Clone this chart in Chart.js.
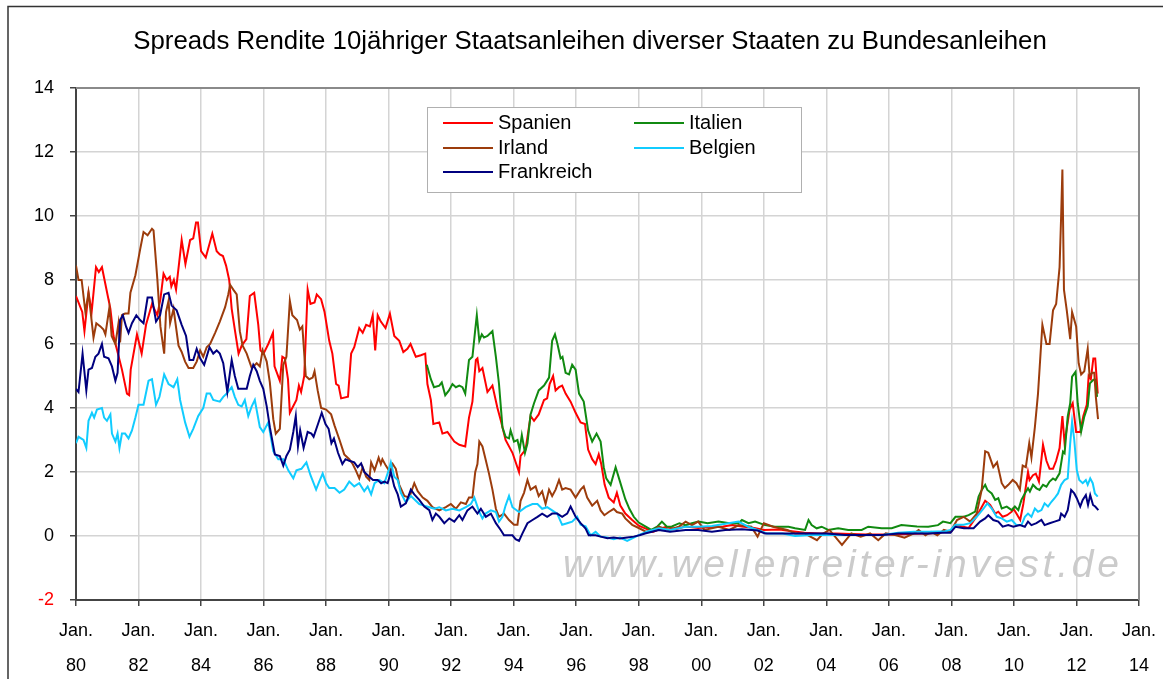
<!DOCTYPE html>
<html>
<head>
<meta charset="utf-8">
<script src="https://cdn.jsdelivr.net/npm/chart.js@4.4.1/dist/chart.umd.min.js"></script>
<style>
  html, body { margin: 0; padding: 0; background: #fff; }
  #grafik { display: block; }
</style>
</head>
<body>
<canvas id="grafik" width="1163" height="679"></canvas>
<script>
// Titel und Achsen
const titel = 'Spreads Rendite 10jähriger Staatsanleihen diverser Staaten zu Bundesanleihen';
const wasserzeichen = 'www.wellenreiter-invest.de';
const jahrStart = 1980;
const jahrEnde = 2014;
const yTicks = [-2, 0, 2, 4, 6, 8, 10, 12, 14];

// Serien: [Jahr (Dezimal), Spread in Prozentpunkten]
const spanien = [
  [1980.0,7.5],[1980.2,7.0],[1980.27,6.4],[1980.4,7.6],[1980.5,7.0],[1980.64,8.4],[1980.73,8.25],[1980.83,8.4],
  [1981.1,7.1],[1981.2,6.25],[1981.47,5.2],[1981.63,4.45],[1981.7,4.4],[1981.75,5.2],[1981.95,6.3],[1982.1,5.7],
  [1982.24,6.6],[1982.43,7.25],[1982.6,6.9],[1982.7,7.4],[1982.8,8.2],[1982.9,8.0],[1983.0,8.1],[1983.05,7.8],
  [1983.13,8.0],[1983.2,7.7],[1983.3,8.55],[1983.38,9.25],[1983.5,8.5],[1983.65,9.25],[1983.75,9.3],[1983.84,9.8],
  [1983.9,9.8],[1984.0,8.9],[1984.15,8.7],[1984.36,9.45],[1984.5,8.9],[1984.6,8.8],[1984.7,8.75],[1984.8,8.45],
  [1984.9,8.0],[1984.98,7.1],[1985.08,6.45],[1985.2,5.7],[1985.3,5.95],[1985.45,6.15],[1985.56,7.5],[1985.7,7.6],
  [1985.83,6.6],[1985.9,5.8],[1986.0,5.7],[1986.15,6.0],[1986.3,6.35],[1986.35,5.3],[1986.52,4.85],[1986.6,5.6],
  [1986.68,5.55],[1986.78,4.9],[1986.84,3.85],[1987.05,4.25],[1987.13,4.7],[1987.2,4.5],[1987.3,5.0],[1987.41,7.7],
  [1987.5,7.25],[1987.63,7.3],[1987.7,7.55],[1987.84,7.4],[1987.95,7.0],[1988.1,6.1],[1988.2,5.7],[1988.32,4.75],
  [1988.4,4.7],[1988.48,4.3],[1988.7,4.35],[1988.8,5.7],[1988.9,5.9],[1989.06,6.5],[1989.17,6.35],[1989.28,6.6],
  [1989.4,6.55],[1989.49,6.9],[1989.57,5.8],[1989.65,6.9],[1989.75,6.7],[1989.9,6.5],[1990.04,6.95],[1990.18,6.25],
  [1990.34,6.1],[1990.47,5.75],[1990.6,5.85],[1990.7,6.0],[1990.87,5.6],[1991.03,5.65],[1991.17,5.7],[1991.24,4.75],
  [1991.35,4.25],[1991.43,3.5],[1991.62,3.55],[1991.72,3.2],[1991.88,3.25],[1992.1,2.95],[1992.26,2.85],[1992.45,2.8],
  [1992.57,3.7],[1992.68,4.2],[1992.79,5.5],[1992.84,5.55],[1992.9,5.15],[1993.0,5.25],[1993.16,4.5],[1993.32,4.7],
  [1993.48,4.0],[1993.59,3.6],[1993.74,3.0],[1993.96,2.6],[1994.17,2.0],[1994.22,2.5],[1994.38,2.7],[1994.54,3.75],
  [1994.65,3.6],[1994.8,3.8],[1994.97,4.25],[1995.07,4.3],[1995.15,4.75],[1995.26,5.0],[1995.34,4.55],[1995.45,4.65],
  [1995.55,4.7],[1995.66,4.45],[1995.82,4.2],[1995.98,3.85],[1996.14,3.55],[1996.28,3.5],[1996.38,2.7],[1996.51,2.4],
  [1996.62,2.25],[1996.72,2.55],[1996.8,2.25],[1996.91,1.6],[1997.04,1.2],[1997.2,1.05],[1997.3,1.35],[1997.41,0.95],
  [1997.57,0.7],[1997.79,0.5],[1998.0,0.32],[1998.3,0.2],[1998.45,0.13],[1998.85,0.28],[1999.2,0.22],[1999.5,0.3],
  [1999.9,0.25],[2000.3,0.28],[2000.7,0.3],[2001.0,0.34],[2001.3,0.3],[2001.7,0.25],[2002.0,0.19],[2002.5,0.2],
  [2002.9,0.15],[2003.3,0.1],[2003.8,0.08],[2004.3,0.08],[2004.8,0.06],[2005.3,0.05],[2005.8,0.05],[2006.3,0.05],
  [2006.8,0.07],[2007.3,0.08],[2007.7,0.12],[2008.0,0.15],[2008.13,0.35],[2008.55,0.25],[2008.8,0.6],[2009.08,1.1],
  [2009.24,0.97],[2009.4,0.7],[2009.5,0.76],[2009.64,0.6],[2009.78,0.65],[2009.93,0.76],[2009.98,0.86],[2010.08,0.7],
  [2010.2,0.5],[2010.3,1.0],[2010.45,2.0],[2010.5,1.75],[2010.61,1.9],[2010.7,1.95],[2010.8,1.7],[2010.93,2.85],
  [2011.04,2.35],[2011.14,2.1],[2011.25,2.1],[2011.35,2.35],[2011.46,2.75],[2011.55,3.75],[2011.62,2.9],[2011.78,3.95],
  [2011.88,4.15],[2011.99,3.25],[2012.12,3.25],[2012.22,3.75],[2012.33,4.1],[2012.39,5.0],[2012.46,4.9],[2012.54,5.55],
  [2012.6,5.55],[2012.68,4.45]
];

const italien = [
  [1991.22,5.35],[1991.35,4.9],[1991.45,4.65],[1991.62,4.7],[1991.7,4.8],[1991.81,4.4],[1991.93,4.55],[1992.04,4.75],
  [1992.15,4.65],[1992.26,4.7],[1992.36,4.65],[1992.45,4.45],[1992.57,5.5],[1992.68,5.6],[1992.77,6.45],[1992.82,6.9],
  [1992.9,6.1],[1992.98,6.3],[1993.05,6.2],[1993.16,6.25],[1993.32,6.4],[1993.43,5.6],[1993.53,4.75],[1993.64,3.4],
  [1993.74,3.1],[1993.85,3.05],[1993.9,3.3],[1994.01,2.95],[1994.12,3.0],[1994.19,2.7],[1994.26,3.15],[1994.36,2.6],
  [1994.44,2.9],[1994.54,3.8],[1994.65,4.15],[1994.8,4.55],[1994.97,4.7],[1995.13,4.95],[1995.23,6.1],[1995.32,6.3],
  [1995.4,6.0],[1995.5,5.55],[1995.56,5.6],[1995.66,5.1],[1995.77,5.05],[1995.87,5.35],[1995.98,5.2],[1996.09,4.45],
  [1996.24,4.2],[1996.38,3.3],[1996.51,2.95],[1996.65,3.2],[1996.78,2.95],[1996.88,2.15],[1996.96,1.8],[1997.1,1.6],
  [1997.26,2.15],[1997.4,1.7],[1997.57,1.15],[1997.7,0.85],[1997.84,0.6],[1998.0,0.42],[1998.21,0.3],[1998.4,0.19],
  [1998.59,0.29],[1998.74,0.45],[1998.9,0.29],[1999.06,0.3],[1999.3,0.4],[1999.49,0.34],[1999.7,0.4],[1999.91,0.45],
  [2000.2,0.4],[2000.55,0.45],[2000.9,0.4],[2001.19,0.4],[2001.3,0.5],[2001.51,0.4],[2001.72,0.45],[2002.04,0.34],
  [2002.36,0.29],[2002.79,0.29],[2003.0,0.24],[2003.32,0.19],[2003.43,0.5],[2003.53,0.34],[2003.69,0.24],[2003.85,0.29],
  [2004.06,0.19],[2004.38,0.24],[2004.7,0.19],[2005.13,0.19],[2005.34,0.29],[2005.77,0.24],[2006.09,0.24],[2006.4,0.34],
  [2006.9,0.3],[2007.26,0.29],[2007.57,0.34],[2007.73,0.45],[2007.97,0.4],[2008.13,0.6],[2008.4,0.6],[2008.55,0.65],
  [2008.76,0.76],[2008.87,1.23],[2008.97,1.44],[2009.08,1.6],[2009.15,1.44],[2009.29,1.33],[2009.4,1.13],[2009.5,1.18],
  [2009.61,0.86],[2009.77,0.92],[2009.93,0.81],[2010.03,0.92],[2010.14,0.81],[2010.24,1.13],[2010.35,1.33],[2010.45,1.49],
  [2010.51,1.39],[2010.61,1.6],[2010.72,1.49],[2010.82,1.44],[2010.93,1.6],[2011.04,1.54],[2011.14,1.7],[2011.25,1.8],
  [2011.33,1.75],[2011.46,1.96],[2011.57,2.64],[2011.62,2.59],[2011.72,3.73],[2011.8,4.15],[2011.86,4.98],[2011.97,5.13],
  [2012.04,4.15],[2012.15,3.26],[2012.25,3.73],[2012.36,4.05],[2012.43,4.77],[2012.54,4.88],[2012.6,4.88],[2012.66,4.35]
];

const irland = [
  [1980.0,8.45],[1980.08,8.0],[1980.18,8.0],[1980.3,7.0],[1980.4,7.6],[1980.56,6.2],[1980.65,6.65],[1980.78,6.55],
  [1980.88,6.45],[1980.94,6.3],[1981.07,7.15],[1981.14,6.25],[1981.26,6.0],[1981.36,6.65],[1981.41,6.05],[1981.47,6.9],
  [1981.57,6.95],[1981.68,6.95],[1981.74,7.6],[1981.9,8.15],[1982.05,8.95],[1982.16,9.5],[1982.29,9.4],[1982.43,9.6],
  [1982.48,9.55],[1982.6,8.05],[1982.7,6.55],[1982.82,5.7],[1982.88,7.0],[1982.96,7.35],[1983.01,6.65],[1983.12,7.1],
  [1983.28,5.95],[1983.38,5.75],[1983.49,5.45],[1983.6,5.25],[1983.75,5.25],[1983.86,5.45],[1983.97,5.8],[1984.07,5.6],
  [1984.18,5.9],[1984.29,6.0],[1984.45,6.35],[1984.6,6.7],[1984.77,7.15],[1984.87,7.55],[1984.93,7.85],[1985.03,7.7],
  [1985.14,7.55],[1985.24,6.4],[1985.33,5.95],[1985.46,5.7],[1985.62,5.25],[1985.78,5.4],[1985.88,5.3],[1985.97,5.8],
  [1986.1,5.45],[1986.2,4.8],[1986.31,3.65],[1986.39,3.2],[1986.52,3.35],[1986.63,5.35],[1986.73,5.6],[1986.84,7.35],
  [1986.92,6.9],[1987.07,6.75],[1987.16,6.45],[1987.24,6.55],[1987.35,5.0],[1987.46,4.9],[1987.57,4.95],[1987.63,5.15],
  [1987.73,4.55],[1987.84,4.0],[1988.0,3.95],[1988.16,3.8],[1988.27,3.45],[1988.43,3.0],[1988.58,2.55],[1988.74,2.4],
  [1988.85,2.25],[1988.95,2.05],[1989.06,1.8],[1989.17,2.15],[1989.28,1.85],[1989.38,1.75],[1989.44,2.3],[1989.55,2.05],
  [1989.68,2.45],[1989.75,2.25],[1989.8,2.4],[1989.91,2.2],[1990.04,2.0],[1990.13,2.25],[1990.23,2.1],[1990.34,1.6],
  [1990.5,1.25],[1990.66,1.2],[1990.82,1.65],[1990.93,1.4],[1991.09,1.2],[1991.24,1.1],[1991.4,0.9],[1991.62,0.8],
  [1991.83,0.9],[1991.99,1.0],[1992.15,0.85],[1992.31,1.05],[1992.47,1.0],[1992.57,1.2],[1992.68,1.2],[1992.77,2.0],
  [1992.84,2.25],[1992.9,2.95],[1993.0,2.8],[1993.1,2.4],[1993.21,1.95],[1993.32,1.45],[1993.43,0.85],[1993.53,0.6],
  [1993.69,0.7],[1993.85,0.5],[1994.01,0.35],[1994.12,0.35],[1994.22,1.1],[1994.33,1.35],[1994.44,1.75],[1994.54,1.45],
  [1994.7,1.55],[1994.8,1.25],[1994.91,1.4],[1995.02,1.0],[1995.13,1.45],[1995.23,1.25],[1995.34,1.45],[1995.45,1.75],
  [1995.55,1.45],[1995.66,1.5],[1995.82,1.45],[1995.98,1.2],[1996.14,1.45],[1996.24,1.55],[1996.35,1.2],[1996.51,0.95],
  [1996.67,1.1],[1996.78,0.8],[1996.9,0.65],[1997.04,0.75],[1997.2,0.85],[1997.3,0.75],[1997.47,0.7],[1997.57,0.55],
  [1997.79,0.35],[1998.0,0.25],[1998.2,0.15],[1998.4,0.13],[1998.64,0.29],[1998.96,0.19],[1999.3,0.3],[1999.5,0.45],
  [1999.7,0.34],[1999.9,0.45],[2000.1,0.19],[2000.55,0.29],[2000.9,0.19],[2001.2,0.34],[2001.6,0.29],[2001.8,-0.02],
  [2002.0,0.4],[2002.3,0.29],[2002.75,0.19],[2003.0,0.08],[2003.3,0.08],[2003.7,-0.13],[2003.9,0.08],[2004.1,0.19],
  [2004.5,-0.28],[2004.8,0.08],[2005.1,-0.02],[2005.4,0.08],[2005.66,-0.13],[2005.9,0.08],[2006.2,0.03],[2006.5,-0.05],
  [2006.8,0.08],[2006.95,0.19],[2007.17,0.02],[2007.35,0.13],[2007.55,0.02],[2007.76,0.19],[2007.97,0.13],[2008.18,0.5],
  [2008.39,0.6],[2008.6,0.45],[2008.81,0.7],[2008.97,1.45],[2009.08,2.65],[2009.18,2.6],[2009.34,2.15],[2009.46,2.3],
  [2009.61,1.65],[2009.71,1.5],[2009.82,1.6],[2009.96,1.75],[2010.08,1.65],[2010.19,1.45],[2010.28,2.2],[2010.38,2.15],
  [2010.49,2.9],[2010.56,2.45],[2010.67,3.4],[2010.77,4.45],[2010.91,6.6],[2011.04,6.0],[2011.14,6.0],[2011.25,7.05],
  [2011.35,7.25],[2011.46,8.4],[2011.51,10.0],[2011.55,11.45],[2011.6,7.7],[2011.69,7.05],[2011.8,6.15],[2011.86,7.0],
  [2011.99,6.55],[2012.07,5.4],[2012.15,5.05],[2012.25,5.15],[2012.36,5.85],[2012.42,5.0],[2012.5,5.1],[2012.57,5.1],
  [2012.62,4.35],[2012.69,3.65]
];

const belgien = [
  [1980.0,2.9],[1980.08,3.1],[1980.24,3.0],[1980.33,2.75],[1980.4,3.6],[1980.51,3.85],[1980.58,3.7],[1980.67,3.95],
  [1980.83,4.0],[1980.9,3.7],[1980.99,3.6],[1981.1,3.8],[1981.15,3.2],[1981.26,2.95],[1981.33,3.2],[1981.39,2.75],
  [1981.47,3.2],[1981.57,3.2],[1981.68,3.05],[1981.79,3.3],[1981.9,3.7],[1982.0,4.1],[1982.16,4.1],[1982.32,4.85],
  [1982.43,4.9],[1982.56,4.1],[1982.67,4.35],[1982.82,5.05],[1982.96,4.75],[1983.12,4.65],[1983.24,4.9],[1983.33,4.25],
  [1983.49,3.55],[1983.63,3.1],[1983.75,3.35],[1983.91,3.75],[1984.07,4.0],[1984.18,4.45],[1984.29,4.45],[1984.39,4.25],
  [1984.6,4.2],[1984.71,4.35],[1984.82,4.45],[1984.98,4.65],[1985.08,4.35],[1985.19,4.1],[1985.3,4.05],[1985.4,4.25],
  [1985.51,3.75],[1985.62,4.05],[1985.72,4.25],[1985.88,3.4],[1985.99,3.25],[1986.15,3.55],[1986.31,2.65],[1986.47,2.4],
  [1986.63,2.4],[1986.79,2.05],[1986.95,1.8],[1987.05,2.05],[1987.21,2.1],[1987.37,2.3],[1987.5,1.9],[1987.68,1.45],
  [1987.78,1.7],[1987.89,1.95],[1988.0,1.65],[1988.1,1.5],[1988.27,1.5],[1988.43,1.35],[1988.58,1.45],[1988.74,1.7],
  [1988.9,1.55],[1989.06,1.65],[1989.22,1.4],[1989.33,1.55],[1989.44,1.3],[1989.55,1.65],[1989.7,1.75],[1989.86,1.65],
  [1990.0,2.05],[1990.07,2.3],[1990.18,1.85],[1990.29,1.75],[1990.39,1.35],[1990.55,1.05],[1990.71,1.25],[1990.82,1.15],
  [1990.98,1.0],[1991.14,0.95],[1991.3,0.9],[1991.46,0.85],[1991.62,0.9],[1991.83,0.8],[1992.04,0.85],[1992.26,0.8],
  [1992.47,0.9],[1992.63,1.0],[1992.74,1.2],[1992.9,0.75],[1993.0,0.55],[1993.1,0.7],[1993.27,0.8],[1993.43,0.75],
  [1993.53,0.45],[1993.64,0.6],[1993.74,0.95],[1993.85,1.25],[1993.96,0.9],[1994.17,0.75],[1994.38,0.9],[1994.6,1.0],
  [1994.76,1.0],[1994.91,0.85],[1995.07,0.9],[1995.23,0.8],[1995.39,0.7],[1995.55,0.35],[1995.71,0.4],[1995.87,0.45],
  [1996.03,0.6],[1996.14,0.35],[1996.3,0.3],[1996.46,0.02],[1996.62,0.13],[1996.78,-0.02],[1996.99,-0.05],[1997.2,-0.1],
  [1997.4,-0.05],[1997.63,-0.15],[1997.84,-0.05],[1998.05,0.05],[1998.3,0.15],[1998.64,0.24],[1999.0,0.19],[1999.5,0.29],
  [1999.9,0.29],[2000.34,0.31],[2000.77,0.38],[2001.19,0.45],[2001.5,0.29],[2001.8,0.19],[2002.1,0.08],[2002.6,0.08],
  [2003.0,0.0],[2003.5,0.03],[2004.0,0.03],[2004.6,0.03],[2005.2,0.03],[2005.8,0.03],[2006.3,0.1],[2006.8,0.13],
  [2007.3,0.13],[2007.8,0.15],[2007.97,0.19],[2008.13,0.35],[2008.39,0.35],[2008.6,0.4],[2008.81,0.6],[2009.03,0.86],
  [2009.15,1.02],[2009.29,0.86],[2009.45,0.6],[2009.61,0.55],[2009.77,0.45],[2009.93,0.5],[2010.08,0.34],[2010.24,0.34],
  [2010.35,0.6],[2010.45,0.7],[2010.56,0.6],[2010.67,0.86],[2010.77,0.76],[2010.88,0.81],[2010.98,1.02],[2011.09,0.92],
  [2011.2,1.07],[2011.3,1.18],[2011.41,1.33],[2011.51,1.6],[2011.62,1.75],[2011.72,1.8],[2011.8,2.9],[2011.86,3.57],
  [2011.93,3.0],[2012.01,2.06],[2012.09,1.75],[2012.2,1.65],[2012.3,1.75],[2012.36,1.6],[2012.44,1.8],[2012.52,1.65],
  [2012.59,1.33],[2012.68,1.23]
];

const frankreich = [
  [1980.0,4.6],[1980.08,4.5],[1980.21,5.7],[1980.33,4.55],[1980.4,5.2],[1980.51,5.25],[1980.62,5.6],[1980.72,5.7],
  [1980.83,6.0],[1980.9,5.6],[1981.04,5.55],[1981.15,5.3],[1981.26,4.85],[1981.33,5.1],[1981.41,6.75],[1981.5,6.9],
  [1981.6,6.55],[1981.68,6.35],[1981.79,6.65],[1981.93,6.9],[1982.05,6.75],[1982.16,6.65],[1982.29,7.45],[1982.43,7.45],
  [1982.56,6.7],[1982.69,6.9],[1982.82,7.55],[1982.96,7.6],[1983.06,7.2],[1983.22,7.05],[1983.38,6.6],[1983.52,6.25],
  [1983.63,5.5],[1983.75,5.5],[1983.86,5.85],[1983.97,5.55],[1984.1,5.35],[1984.27,5.9],[1984.39,5.7],[1984.5,5.8],
  [1984.6,5.7],[1984.71,5.4],[1984.84,4.5],[1984.98,5.5],[1985.08,5.0],[1985.19,4.6],[1985.35,4.6],[1985.46,4.6],
  [1985.56,5.0],[1985.67,5.35],[1985.78,5.15],[1985.88,4.85],[1985.99,4.6],[1986.1,4.05],[1986.2,3.4],[1986.36,2.55],
  [1986.52,2.5],[1986.63,2.2],[1986.73,2.5],[1986.84,2.7],[1986.95,3.25],[1987.03,3.75],[1987.1,2.8],[1987.17,3.3],
  [1987.28,2.75],[1987.41,3.25],[1987.53,3.2],[1987.6,3.1],[1987.74,3.5],[1987.86,3.85],[1987.98,3.5],[1988.08,3.35],
  [1988.17,2.9],[1988.25,3.05],[1988.38,2.6],[1988.52,2.25],[1988.62,2.4],[1988.74,2.35],[1988.9,2.3],[1989.01,2.15],
  [1989.12,2.27],[1989.22,2.0],[1989.38,1.85],[1989.5,1.75],[1989.65,1.75],[1989.76,1.65],[1989.86,1.7],[1989.97,1.65],
  [1990.07,2.0],[1990.18,1.55],[1990.29,1.3],[1990.39,0.92],[1990.55,1.02],[1990.71,1.45],[1990.82,1.3],[1990.98,1.13],
  [1991.14,0.92],[1991.3,0.81],[1991.4,0.5],[1991.51,0.7],[1991.62,0.6],[1991.78,0.4],[1991.94,0.55],[1992.1,0.45],
  [1992.26,0.65],[1992.36,0.5],[1992.52,0.8],[1992.68,0.92],[1992.84,0.7],[1992.95,0.85],[1993.11,0.6],[1993.27,0.7],
  [1993.43,0.4],[1993.59,0.18],[1993.69,0.02],[1993.8,0.02],[1993.96,0.02],[1994.06,-0.1],[1994.17,-0.15],[1994.28,0.08],
  [1994.44,0.4],[1994.6,0.5],[1994.76,0.6],[1994.91,0.7],[1995.07,0.6],[1995.23,0.7],[1995.39,0.7],[1995.55,0.6],
  [1995.71,0.7],[1995.82,0.92],[1995.98,0.6],[1996.14,0.4],[1996.3,0.23],[1996.4,0.02],[1996.62,0.02],[1996.78,-0.02],
  [1997.0,-0.07],[1997.2,-0.05],[1997.4,-0.08],[1997.63,-0.05],[1997.84,-0.02],[1998.05,0.03],[1998.2,0.08],[1998.64,0.19],
  [1999.0,0.13],[1999.5,0.19],[1999.9,0.19],[2000.34,0.13],[2000.77,0.19],[2001.3,0.21],[2001.8,0.17],[2002.04,0.08],
  [2002.5,0.08],[2003.0,0.08],[2003.5,0.08],[2004.0,0.08],[2004.6,0.03],[2005.2,0.03],[2005.8,0.03],[2006.3,0.08],
  [2006.8,0.08],[2007.3,0.08],[2007.7,0.1],[2007.97,0.1],[2008.13,0.29],[2008.4,0.24],[2008.71,0.24],[2008.92,0.45],
  [2009.08,0.55],[2009.18,0.65],[2009.34,0.5],[2009.5,0.45],[2009.64,0.29],[2009.82,0.34],[2009.98,0.29],[2010.19,0.34],
  [2010.35,0.29],[2010.45,0.45],[2010.56,0.34],[2010.72,0.4],[2010.88,0.5],[2010.98,0.34],[2011.14,0.4],[2011.3,0.45],
  [2011.46,0.5],[2011.51,0.7],[2011.62,0.6],[2011.72,0.81],[2011.83,1.44],[2011.93,1.33],[2012.01,1.18],[2012.12,0.92],
  [2012.2,1.13],[2012.3,1.28],[2012.37,0.97],[2012.44,1.28],[2012.53,0.97],[2012.6,0.92],[2012.7,0.81]
];

// Serien in Excel-Reihenfolge (Frankreich zuletzt = oben)
const serien = [
  { label: 'Spanien', daten: spanien, farbe: '#ff0000' },
  { label: 'Italien', daten: italien, farbe: '#118a11' },
  { label: 'Irland', daten: irland, farbe: '#9c3c0c' },
  { label: 'Belgien', daten: belgien, farbe: '#11ccff' },
  { label: 'Frankreich', daten: frankreich, farbe: '#00007f' }
];

const schrift = '"Liberation Sans", Arial, sans-serif';

// Hintergrund, Rahmen, Titel, Wasserzeichen und Legende
const dekoration = {
  id: 'dekoration',
  beforeDraw(chart) {
    const c = chart.ctx;
    c.save();
    c.fillStyle = '#fff';
    c.fillRect(0, 0, chart.width, chart.height);
    c.strokeStyle = '#333';
    c.lineWidth = 1.5;
    c.strokeRect(8, 6.5, chart.width + 10, chart.height + 10);
    c.restore();
  },
  beforeDatasetsDraw(chart) {
    const c = chart.ctx;
    const a = chart.chartArea;
    c.save();
    c.beginPath();
    c.rect(a.left, a.top, a.right - a.left, a.bottom - a.top);
    c.clip();
    // Wasserzeichen: gesperrte Kursivschrift, Breite wie im Original
    c.font = 'italic 39px ' + schrift;
    const w = c.measureText(wasserzeichen).width;
    const abstand = Math.max(0, (555 - w) / (wasserzeichen.length - 1));
    c.letterSpacing = abstand.toFixed(1) + 'px';
    c.fillStyle = '#cbcbcb';
    c.textBaseline = 'alphabetic';
    c.textAlign = 'left';
    c.fillText(wasserzeichen, 563, 577);
    c.restore();
  },
  afterDatasetsDraw(chart) {
    const c = chart.ctx;
    c.save();
    // Legende
    c.fillStyle = '#fff';
    c.fillRect(427, 107, 374, 85);
    c.strokeStyle = '#b0b0b0';
    c.lineWidth = 1;
    c.strokeRect(427.5, 107.5, 374, 85);
    const plaetze = [[443, 123], [634, 123], [443, 148], [634, 148], [443, 172]];
    c.font = '20px ' + schrift;
    c.textBaseline = 'middle';
    c.textAlign = 'left';
    serien.forEach((s, i) => {
      const [x, y] = plaetze[i];
      c.strokeStyle = s.farbe;
      c.lineWidth = 2;
      c.beginPath();
      c.moveTo(x, y);
      c.lineTo(x + 50, y);
      c.stroke();
      c.fillStyle = '#000';
      c.fillText(s.label, x + 55, y);
    });
    c.restore();
  },
  afterDraw(chart) {
    const c = chart.ctx;
    const a = chart.chartArea;
    c.save();
    // oberer und rechter Rand der Zeichenfläche
    c.strokeStyle = '#8a8a8a';
    c.lineWidth = 2;
    c.beginPath();
    c.moveTo(a.left, a.top);
    c.lineTo(a.right, a.top);
    c.lineTo(a.right, a.bottom);
    c.stroke();
    // Titel
    c.font = '22px ' + schrift;
    const w = c.measureText(titel).width;
    const groesse = 22 * 915 / w;
    c.font = groesse.toFixed(1) + 'px ' + schrift;
    c.fillStyle = '#000';
    c.textAlign = 'center';
    c.textBaseline = 'middle';
    c.fillText(titel, 590, 42);
    c.restore();
  }
};

const ctx = document.getElementById('grafik').getContext('2d');
new Chart(ctx, {
  type: 'line',
  data: {
    datasets: serien.map((s, i) => ({
      label: s.label,
      data: s.daten.map(p => ({ x: p[0], y: p[1] })),
      borderColor: s.farbe,
      backgroundColor: s.farbe,
      borderWidth: 2,
      pointRadius: 0,
      tension: 0,
      fill: false,
      order: serien.length - i
    }))
  },
  options: {
    responsive: false,
    devicePixelRatio: 1,
    animation: false,
    layout: { padding: { top: 88, right: 21, left: 0, bottom: 0 } },
    plugins: {
      legend: { display: false },
      tooltip: { enabled: false },
      title: { display: false }
    },
    scales: {
      x: {
        type: 'linear',
        min: jahrStart,
        max: jahrEnde,
        afterFit: scale => { scale.height = 79; },
        afterBuildTicks: scale => {
          const t = [];
          for (let j = jahrStart; j <= jahrEnde; j += 2) t.push({ value: j });
          scale.ticks = t;
        },
        ticks: {
          autoSkip: false,
          maxRotation: 0,
          padding: 7,
          color: '#000',
          font: { family: schrift, size: 18, lineHeight: 1.95 },
          callback: v => ['Jan.', String(v % 100).padStart(2, '0')]
        },
        grid: { color: '#d4d4d4', lineWidth: 1.5, tickLength: 6, tickColor: '#444' },
        border: { color: '#444', width: 2 }
      },
      y: {
        min: -2,
        max: 14,
        afterFit: scale => { scale.width = 76; },
        afterBuildTicks: scale => { scale.ticks = yTicks.map(v => ({ value: v })); },
        ticks: {
          padding: 16,
          color: c => (c.tick && c.tick.value === -2 ? '#ff0000' : '#000'),
          font: { family: schrift, size: 18 }
        },
        grid: { color: '#d4d4d4', lineWidth: 1.5, tickLength: 6, tickColor: '#444' },
        border: { color: '#444', width: 2 }
      }
    }
  },
  plugins: [dekoration]
});
</script>
</body>
</html>
